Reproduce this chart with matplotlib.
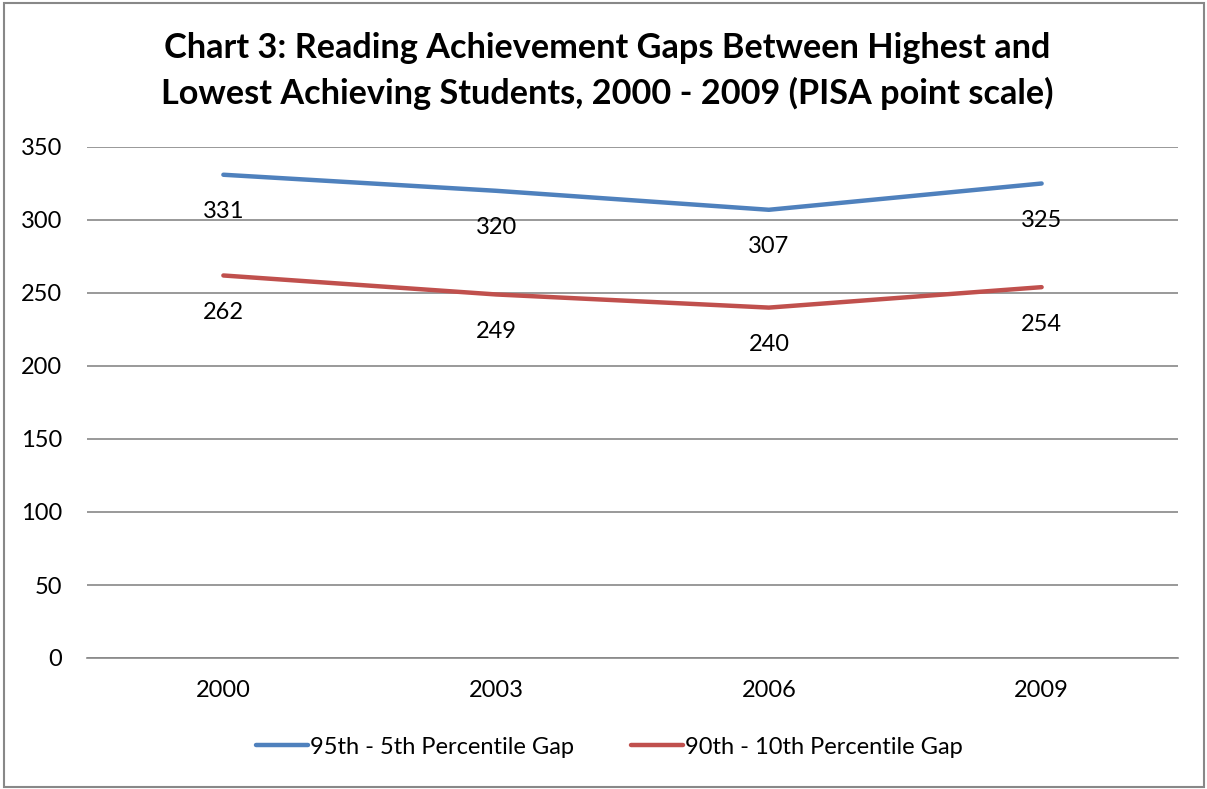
import matplotlib
matplotlib.use("Agg")
import matplotlib.pyplot as plt
from matplotlib.patches import Rectangle

years = ["2000", "2003", "2006", "2009"]
gap_95_5 = [331, 320, 307, 325]
gap_90_10 = [262, 249, 240, 254]
series_names = ["95th - 5th Percentile Gap", "90th - 10th Percentile Gap"]
title = "Chart 3: Reading Achievement Gaps Between Highest and\nLowest Achieving Students, 2000 - 2009 (PISA point scale)"
yticks = [0, 50, 100, 150, 200, 250, 300, 350]

plt.rcParams['font.family'] = ['Lato', 'DejaVu Sans']

W, H = 1207, 789
fig = plt.figure(figsize=(W / 100, H / 100), dpi=100)
ax = fig.add_axes([87 / W, 1 - 658 / H, (1178 - 87) / W, (658 - 147) / H])

blue = "#4F81BD"
red = "#C0504D"
fs = 17
x = list(range(len(years)))
ax.plot(x, gap_95_5, color=blue, lw=3.2, solid_capstyle='round', label=series_names[0], zorder=3)
ax.plot(x, gap_90_10, color=red, lw=3.2, solid_capstyle='round', label=series_names[1], zorder=3)

for xs, vals in ((x, gap_95_5), (x, gap_90_10)):
    for xi, v in zip(xs, vals):
        ax.annotate(str(v), (xi, v), xytext=(0, -37), textcoords='offset pixels',
                    ha='center', va='center', fontsize=fs, color='black', zorder=4)

ax.set_xlim(-0.5, len(years) - 0.5)
ax.set_ylim(0, 350)
ax.set_yticks(yticks)
ax.set_xticks(x)
ax.set_xticklabels(years)
ax.grid(axis='y', color='#888888', lw=1.2)
ax.set_axisbelow(True)
for s in ['top', 'right', 'left']:
    ax.spines[s].set_visible(False)
ax.spines['bottom'].set_color('#888888')
ax.spines['bottom'].set_linewidth(1.2)
ax.tick_params(axis='both', length=0, labelsize=fs)
ax.tick_params(axis='y', pad=18)
ax.tick_params(axis='x', pad=16)

fig.text(0.503, 1 - 71 / H, title, ha='center', va='center', fontsize=24.7,
         fontweight='bold', linespacing=1.45)

leg = fig.legend(loc='center', bbox_to_anchor=(0.505, 1 - 747 / H), ncol=2, frameon=False,
                 fontsize=fs, handlelength=2.2, handletextpad=0.1, columnspacing=2.4)

fig.patches.append(Rectangle((4 / W, 2 / H), (1204 - 4) / W, (786 - 2) / H, transform=fig.transFigure,
                             fill=False, edgecolor='#888888', lw=1.5))

fig.savefig("out.png", dpi=100)
